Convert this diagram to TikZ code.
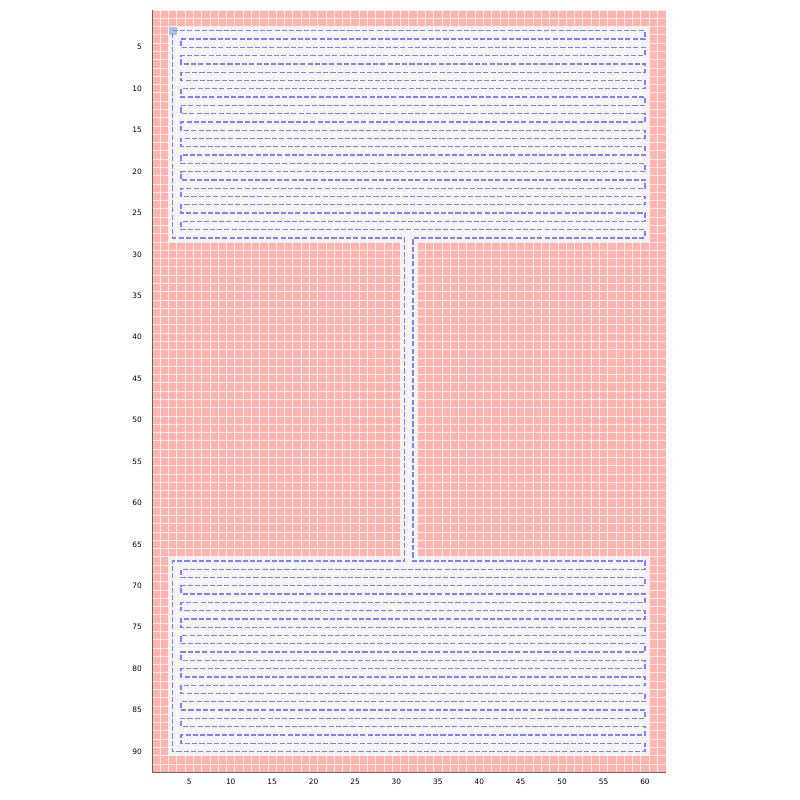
\documentclass[tikz,border=0pt]{standalone}
\usepackage{fontspec}
\setmainfont{DejaVu Sans}
\definecolor{wall}{RGB}{255,180,176}
\definecolor{floor}{RGB}{242,242,242}
\definecolor{startcell}{RGB}{168,196,228}
\definecolor{routeblue}{RGB}{128,128,255}
\begin{document}
\begin{tikzpicture}[x=0.2cm, y={(0,-0.2cm)}, line cap=butt,
		gridline/.style={white, opacity=0.75, line width=0.6pt},
		spine/.style={black!60, line width=0.6pt},
		ticklabel/.style={font=\fontsize{5.1}{6}\selectfont, inner sep=0pt},
		coverroute/.style={routeblue, line width=0.9pt, dash pattern=on 3.5pt off 1.5pt}]
	
	% Frame of the figure, margins included
	\useasboundingbox (-17.85,-0.71) rectangle (78.7,95.85);
	
	% Occupied cells and free rooms
	\fill[wall] (0.5,0.5) rectangle (62.5,92.5);
	\fill[floor] (2.5,2.5) rectangle (60.5,28.5);
	\fill[floor] (30.5,28.5) rectangle (32.5,66.5);
	\fill[floor] (2.5,66.5) rectangle (60.5,90.5);
	
	% Cell borders
	\foreach \c in {1,...,62} {
		\draw[gridline] (\c-0.5,0.5) -- (\c-0.5,92.5);
	}
	\foreach \r in {1,...,92} {
		\draw[gridline] (0.5,\r-0.5) -- (62.5,\r-0.5);
	}
	
	% Start cell
	\fill[startcell] (2.5,2.5) rectangle (3.5,3.5);
	
	% Coverage route
	\coordinate (S) at (3,3);
	\draw[coverroute] (S) -- (60,3)
		\foreach \r in {4,6,...,26} { -- (60,\r) -- (4,\r) -- (4,\r+1) -- (60,\r+1) }
		-- (60,28) -- (32,28) -- (32,67) -- (60,67)
		\foreach \r in {68,70,...,88} { -- (60,\r) -- (4,\r) -- (4,\r+1) -- (60,\r+1) }
		-- (60,90) -- (3,90) -- (3,67) -- (31,67) -- (31,28) -- (3,28) -- cycle;
	
	% Axes
	\draw[spine] (0.5,0.5) -- (0.5,92.5) -- (62.5,92.5);
	\foreach \c in {5,10,...,60} {
		\node[ticklabel] (xl\c) at (\c,93.7) {\c};
	}
	\foreach \r in {5,10,...,90} {
		\node[ticklabel, anchor=east] (yl\r) at (-0.7,\r) {\r};
	}
	
\end{tikzpicture}
\end{document}
